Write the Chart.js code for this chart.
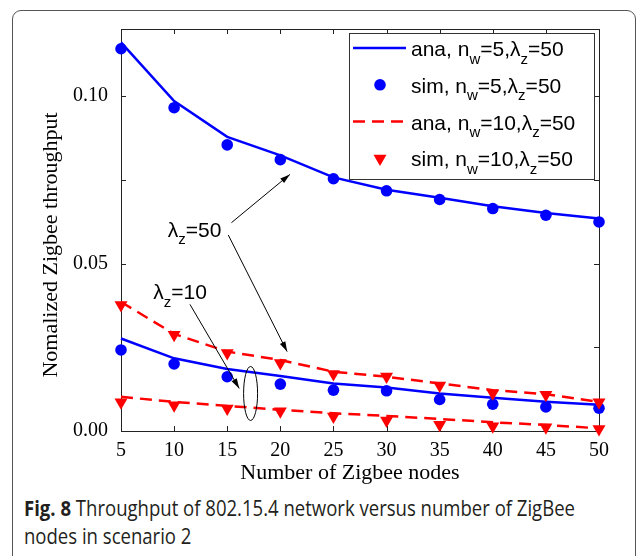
<!DOCTYPE html>
<html>
<head>
<meta charset="utf-8">
<script src="https://cdn.jsdelivr.net/npm/chart.js@4.4.1/dist/chart.umd.min.js"></script>
<style>
  html, body { margin: 0; padding: 0; background: #fff; }
  #wrap { position: relative; width: 637px; height: 556px; overflow: hidden; }
  #card { position: absolute; left: 12px; top: 10px; width: 624px; height: 620px;
          border: 1px solid #555; border-radius: 9px; box-sizing: border-box; }
  #plot { position: absolute; left: 0; top: 0; }
  #caption { position: absolute; left: 24px; top: 494px; font-family: "Open Sans", sans-serif;
             font-size: 21px; line-height: 28px; color: #231f20; white-space: nowrap;
             transform-origin: 0 0; }
  #caption b { font-weight: 700; }
</style>
</head>
<body>
<div id="wrap">
  <div id="card"></div>
  <canvas id="plot" width="637" height="490"></canvas>
  <div id="caption"><span id="cap1"><b>Fig. 8</b> Throughput of 802.15.4 network versus number of ZigBee</span><br>nodes in scenario 2</div>
</div>
<script>
// number of zigbee nodes (x axis)
const nodes = [5, 10, 15, 20, 25, 30, 35, 40, 45, 50];

// lambda_z = 50
const anaW5L50 = [0.1160, 0.0985, 0.0878, 0.0823, 0.0757, 0.0720, 0.0696, 0.0671, 0.0651, 0.0634];
const simW5L50 = [0.1141, 0.0965, 0.0854, 0.0810, 0.0753, 0.0717, 0.0691, 0.0664, 0.0644, 0.0624];
const anaW10L50 = [0.0385, 0.0290, 0.0237, 0.0212, 0.0177, 0.0162, 0.0142, 0.0122, 0.0110, 0.0087];
const simW10L50 = [0.0376, 0.0287, 0.0233, 0.0203, 0.0170, 0.0163, 0.0136, 0.0113, 0.0108, 0.0086];

// lambda_z = 10
const anaW5L10 = [0.0276, 0.0217, 0.0185, 0.0164, 0.0142, 0.0130, 0.0112, 0.0099, 0.0087, 0.0078];
const simW5L10 = [0.0242, 0.0200, 0.0162, 0.0140, 0.0122, 0.0120, 0.0094, 0.0080, 0.0072, 0.0068];
const anaW10L10 = [0.0102, 0.0087, 0.0075, 0.0063, 0.0053, 0.0045, 0.0036, 0.0026, 0.0018, 0.0008];
const simW10L10 = [0.0086, 0.0077, 0.0067, 0.0059, 0.0043, 0.0031, 0.0019, 0.0014, 0.0011, 0.0006];

// legend labels: [text, isSubscript]
const legendLabels = [
  [["ana, n", 0], ["w", 1], ["=5,\u03bb", 0], ["z", 1], ["=50", 0]],
  [["sim, n", 0], ["w", 1], ["=5,\u03bb", 0], ["z", 1], ["=50", 0]],
  [["ana, n", 0], ["w", 1], ["=10,\u03bb", 0], ["z", 1], ["=50", 0]],
  [["sim, n", 0], ["w", 1], ["=10,\u03bb", 0], ["z", 1], ["=50", 0]],
];
const label50 = [["\u03bb", 0], ["z", 1], ["=50", 0]];
const label10 = [["\u03bb", 0], ["z", 1], ["=10", 0]];

const xTitle = "Number of Zigbee nodes";
const yTitle = "Nomalized Zigbee throughput";

const BLUE = "#0000ff";
const RED = "#ff0000";
const SERIF = '"Liberation Serif", "Times New Roman", serif';
const SANS = '"Liberation Sans", Arial, sans-serif';

const pts = (vals) => nodes.map((n, i) => ({ x: n, y: vals[i] }));

function anaSet(vals, color, dashed) {
  return {
    data: pts(vals), borderColor: color, backgroundColor: color, borderWidth: 2.5,
    borderDash: dashed ? [12, 7] : [], pointRadius: 0, tension: 0, clip: false,
  };
}
function simSet(vals, color, tri) {
  return {
    data: pts(vals), showLine: false, borderColor: color, backgroundColor: color,
    borderWidth: 0, pointStyle: tri ? "triangle" : "circle", pointRotation: tri ? 180 : 0,
    pointRadius: tri ? 7.5 : 5.8, pointHoverRadius: tri ? 7.5 : 5.8, clip: false,
  };
}

function richText(ctx, parts, x, y, size) {
  ctx.textAlign = "left";
  ctx.textBaseline = "alphabetic";
  for (const [t, sub] of parts) {
    const s = sub ? Math.round(size * 0.7) : size;
    ctx.font = s + "px " + SANS;
    ctx.fillText(t, x, sub ? y + size * 0.36 : y);
    x += ctx.measureText(t).width;
  }
}

function arrow(ctx, x1, y1, x2, y2, head) {
  ctx.beginPath();
  ctx.moveTo(x1, y1);
  ctx.lineTo(x2, y2);
  ctx.stroke();
  if (!head) return;
  const ang = Math.atan2(y2 - y1, x2 - x1);
  ctx.beginPath();
  ctx.moveTo(x2, y2);
  ctx.lineTo(x2 - 10 * Math.cos(ang) + 3 * Math.sin(ang), y2 - 10 * Math.sin(ang) - 3 * Math.cos(ang));
  ctx.lineTo(x2 - 10 * Math.cos(ang) - 3 * Math.sin(ang), y2 - 10 * Math.sin(ang) + 3 * Math.cos(ang));
  ctx.closePath();
  ctx.fill();
}

const frame = {
  id: "frame",
  beforeDatasetsDraw(chart) {
    const { ctx, chartArea: a, scales: { x, y } } = chart;
    ctx.save();
    ctx.strokeStyle = "#222";
    ctx.lineWidth = 1;
    ctx.strokeRect(a.left + 0.5, a.top + 0.5, a.right - a.left, a.bottom - a.top);
    ctx.beginPath();
    x.ticks.forEach((t) => {
      const px = Math.round(x.getPixelForValue(t.value)) + 0.5;
      ctx.moveTo(px, a.bottom); ctx.lineTo(px, a.bottom - 5);
      ctx.moveTo(px, a.top); ctx.lineTo(px, a.top + 5);
    });
    y.ticks.forEach((t) => {
      const py = Math.round(y.getPixelForValue(t.value)) + 0.5;
      ctx.moveTo(a.left, py); ctx.lineTo(a.left + 5, py);
      ctx.moveTo(a.right, py); ctx.lineTo(a.right - 5, py);
    });
    ctx.stroke();
    ctx.restore();
  },
  afterDraw(chart) {
    const { ctx, chartArea: a, scales: { x, y } } = chart;
    ctx.save();
    ctx.fillStyle = "#000";

    // axis titles
    ctx.font = "22px " + SERIF;
    ctx.textAlign = "center";
    ctx.textBaseline = "alphabetic";
    ctx.fillText(xTitle, (a.left + a.right) / 2 - 10, a.bottom + 48);
    ctx.save();
    ctx.translate(57, (a.top + a.bottom) / 2 + 15);
    ctx.rotate(-Math.PI / 2);
    ctx.fillText(yTitle, 0, 0);
    ctx.restore();

    // legend
    const lx = a.right - 250, ly = a.top + 4, lw = 245, lh = 146;
    ctx.fillStyle = "#fff";
    ctx.fillRect(lx, ly, lw, lh);
    ctx.strokeStyle = "#333";
    ctx.lineWidth = 1;
    ctx.strokeRect(lx + 0.5, ly + 0.5, lw, lh);
    chart.data.datasets.slice(0, 4).forEach((ds, i) => {
      const cy = ly + 15 + i * 36.8;
      const sx = lx + 4, ex = lx + 57, mx = lx + 31;
      ctx.strokeStyle = ds.borderColor;
      ctx.fillStyle = ds.backgroundColor;
      if (ds.showLine === false) {
        const r = ds.pointRadius;
        ctx.beginPath();
        if (ds.pointStyle === "triangle") {
          ctx.moveTo(mx, cy + r);
          ctx.lineTo(mx - r * 0.866, cy - r / 2);
          ctx.lineTo(mx + r * 0.866, cy - r / 2);
          ctx.closePath();
        } else {
          ctx.arc(mx, cy, r, 0, Math.PI * 2);
        }
        ctx.fill();
      } else {
        ctx.lineWidth = ds.borderWidth;
        ctx.setLineDash(ds.borderDash);
        ctx.beginPath();
        ctx.moveTo(sx, cy); ctx.lineTo(ex, cy);
        ctx.stroke();
        ctx.setLineDash([]);
      }
      ctx.fillStyle = "#000";
      richText(ctx, legendLabels[i], lx + 62, cy + 8, 21);
    });

    // annotations, placed in data coordinates
    const X = (v) => x.getPixelForValue(v), Y = (v) => y.getPixelForValue(v);
    ctx.fillStyle = "#000";
    ctx.strokeStyle = "#000";
    ctx.lineWidth = 1;
    richText(ctx, label50, X(9.4), Y(0.058), 21);
    arrow(ctx, X(15.4), Y(0.0622), X(20.9), Y(0.0766), true);
    arrow(ctx, X(15.1), Y(0.0585), X(20.64), Y(0.0237), true);
    richText(ctx, label10, X(8.04), Y(0.0393), 21);
    arrow(ctx, X(11.49), Y(0.0378), X(16.13), Y(0.0127), true);
    ctx.beginPath();
    ctx.ellipse(X(17.2), Y(0.0112), 7, 27, 0, 0, Math.PI * 2);
    ctx.stroke();
    ctx.restore();
  },
};

new Chart(document.getElementById("plot"), {
  type: "line",
  data: {
    datasets: [
      anaSet(anaW5L50, BLUE, false),
      simSet(simW5L50, BLUE, false),
      anaSet(anaW10L50, RED, true),
      simSet(simW10L50, RED, true),
      anaSet(anaW5L10, BLUE, false),
      simSet(simW5L10, BLUE, false),
      anaSet(anaW10L10, RED, true),
      simSet(simW10L10, RED, true),
    ],
  },
  options: {
    responsive: false,
    animation: false,
    layout: { padding: { top: 29, right: 38, bottom: 5, left: 0 } },
    plugins: { legend: { display: false }, tooltip: { enabled: false } },
    scales: {
      x: {
        type: "linear", min: 5, max: 50,
        afterFit: (s) => { s.height = 54; },
        grid: { display: false, drawTicks: false },
        border: { display: false },
        ticks: { stepSize: 5, padding: 8, color: "#000", font: { family: SERIF, size: 20 } },
      },
      y: {
        type: "linear", min: 0, max: 0.12,
        afterFit: (s) => { s.width = 121; },
        grid: { display: false, drawTicks: false },
        border: { display: false },
        ticks: {
          stepSize: 0.025, includeBounds: false, padding: 13, color: "#000",
          font: { family: SERIF, size: 20 },
          callback: (v) => (Math.abs(v / 0.05 - Math.round(v / 0.05)) < 1e-6 ? v.toFixed(2) : ""),
        },
      },
    },
  },
  plugins: [frame],
});

// squeeze caption to the width it has in the figure
const capW = document.getElementById("cap1").getBoundingClientRect().width;
document.getElementById("caption").style.transform = "scaleX(" + (551 / capW) + ")";
</script>
</body>
</html>
